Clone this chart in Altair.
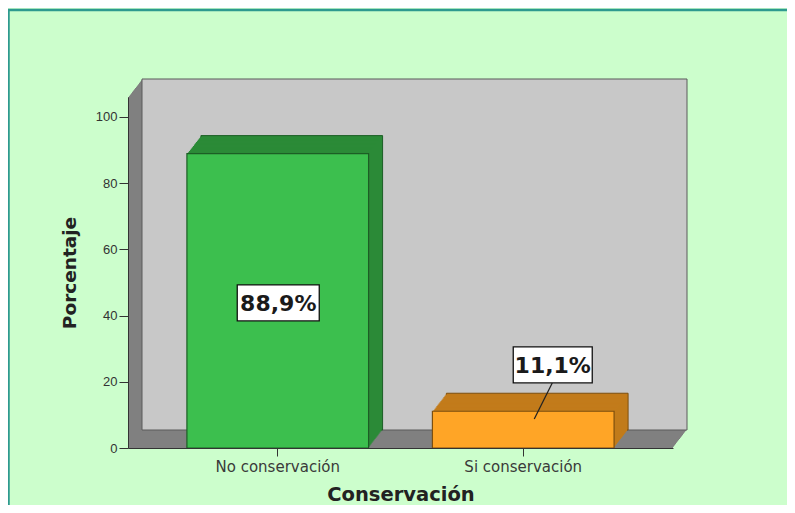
import altair as alt
import pandas as pd

# ---- data ----
categories = ["No conservación", "Si conservación"]
percent = [88.9, 11.1]
label_text = ["88,9%", "11,1%"]
label_y = [43.8, 25.1]          # value position of the label boxes
label_dx = [0.5, 29.5]          # horizontal nudge of label boxes (px)
label_w = [82, 79]
front_colors = ["#3cbf4e", "#ffa526"]
side_colors = ["#2b8a37", "#c27b1b"]
edge_colors = ["#1c5e25", "#7d4f0e"]
y_ticks = [0, 20, 40, 60, 80, 100]
y_max = 106
leader_cat = "Si conservación"
leader_y = 14.2

W, H = 545, 351
DX, DY, STEPS = 14, 18, 14
PAD_L, PAD_T, PAD_R, PAD_B = 120, 89, 114, 57

bars = pd.DataFrame({
    "cat": categories, "pct": percent, "zero": [0, 0],
    "front": front_colors, "side": side_colors, "edge": edge_colors,
})
frame = pd.DataFrame({"lo": [0], "hi": [y_max]})

xscale = alt.Scale(domain=categories, paddingInner=0.26, paddingOuter=0.24)
yscale = alt.Scale(domain=[0, y_max], nice=False, zero=True)

xaxis = alt.Axis(labelAngle=0, tickSize=8, labelPadding=3, titlePadding=11, zindex=1,
                 labelFont="DejaVu Sans", labelFontSize=15, labelColor="#3a3a3a",
                 titleFont="DejaVu Sans", titleFontSize=19.5, titleFontWeight="bold",
                 titleColor="#222222", domainColor="#333333", tickColor="#333333")
yaxis = alt.Axis(values=y_ticks, tickSize=9, labelPadding=2, titlePadding=16, grid=False, zindex=1,
                 labelFont="Liberation Sans", labelFontSize=13, labelColor="#333333",
                 titleFont="DejaVu Sans", titleFontSize=18.5, titleFontWeight="bold",
                 titleColor="#222222", domainColor="#333333", tickColor="#333333")


def X(field):
    return alt.X(field, scale=xscale, axis=xaxis, title="Conservación")


def Y(field):
    return alt.Y(field, scale=yscale, axis=yaxis, title="Porcentaje")


layers = []

# ---- 3D box: left wall + floor (dark), back wall (light) ----
for k in range(STEPS + 1):
    ox = k * DX / STEPS
    oy = k * DY / STEPS
    last = k == STEPS
    props = dict(xOffset=ox, x2Offset=ox, yOffset=-oy, y2Offset=-oy,
                 color="#c8c8c8" if last else "#808080")
    if last:
        props.update(stroke="#5a5a5a", strokeWidth=1)
    m = alt.Chart(frame).mark_rect(**props).encode(
        x=alt.value(0), x2=alt.value(W),
        y=Y("lo:Q"),
        y2="hi:Q",
    )
    layers.append(m)

# ---- bar extrusions ----
for k in range(STEPS, 0, -1):
    ox = k * DX / STEPS
    oy = k * DY / STEPS
    props = dict(xOffset=ox, yOffset=-oy, y2Offset=-oy)
    enc = dict(
        x=X("cat:N"),
        y=Y("pct:Q"),
        y2="zero:Q",
        color=alt.Color("side:N", scale=None),
    )
    if k == STEPS:
        props.update(strokeWidth=1)
        enc["stroke"] = alt.Stroke("edge:N", scale=None)
    layers.append(alt.Chart(bars).mark_bar(**props).encode(**enc))

# ---- front faces ----
front = alt.Chart(bars).mark_bar(strokeWidth=1.2).encode(
    x=X("cat:N"),
    y=Y("pct:Q"),
    y2="zero:Q",
    color=alt.Color("front:N", scale=None),
    stroke=alt.Stroke("edge:N", scale=None),
)
layers.append(front)

# ---- leader line for the small label ----
leader = pd.DataFrame({"cat": [leader_cat], "ly": [leader_y]})
layers.append(
    alt.Chart(leader).mark_point(
        shape="M0.45,-0.9 L-0.45,0.9", filled=False, size=1600,
        stroke="#222222", strokeWidth=1.2, opacity=1, xOffset=20,
    ).encode(x=X("cat:N"), y=Y("ly:Q"))
)

# ---- label boxes and texts ----
for i in range(len(categories)):
    d = pd.DataFrame({"cat": [categories[i]], "ly": [label_y[i]], "t": [label_text[i]]})
    w = label_w[i]
    hh = 36 / w
    shape = f"M-1,-{hh:.4f} L1,-{hh:.4f} L1,{hh:.4f} L-1,{hh:.4f} Z"
    layers.append(
        alt.Chart(d).mark_point(
            shape=shape, size=w * w, filled=True, fill="white", stroke="#111111",
            strokeWidth=1.3, opacity=1, xOffset=label_dx[i],
        ).encode(x=X("cat:N"), y=Y("ly:Q"))
    )
    layers.append(
        alt.Chart(d).mark_text(
            font="DejaVu Sans", fontSize=22, fontWeight="bold", color="#1a1a1a",
            align="center", baseline="middle", xOffset=label_dx[i], dy=1,
        ).encode(x=X("cat:N"), y=Y("ly:Q"), text="t:N")
    )

# ---- teal frame lines (top and left) ----
border_df = pd.DataFrame({"a": [0]})
layers.append(alt.Chart(border_df).mark_rule(color="#2e9a8f", strokeWidth=2.5).encode(
    x=alt.value(-PAD_L), x2=alt.value(W + PAD_R), y=alt.value(-PAD_T + 2)))
layers.append(alt.Chart(border_df).mark_rule(color="#2e9a8f", strokeWidth=2.5).encode(
    x=alt.value(-PAD_L + 0.5), y=alt.value(-PAD_T + 2), y2=alt.value(H + PAD_B)))

chart = alt.layer(*layers).properties(
    width=W, height=H,
    autosize=alt.AutoSizeParams(type="none"),
    padding={"left": PAD_L, "top": PAD_T, "right": PAD_R, "bottom": PAD_B},
    background="#ccfecc",
).configure_view(stroke=None)

chart.save("out.html", embed_options={"renderer": "svg", "actions": False})
